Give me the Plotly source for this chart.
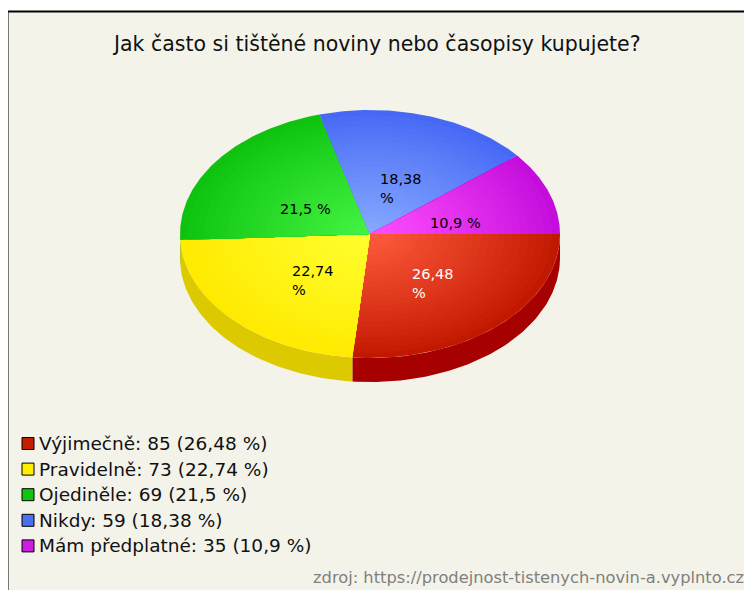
import numpy as np
import plotly.graph_objects as go

# ---------------- data ----------------
categories = ["Výjimečně", "Pravidelně", "Ojediněle", "Nikdy", "Mám předplatné"]
counts = [85, 73, 69, 59, 35]
percents = [26.48, 22.74, 21.5, 18.38, 10.9]
title_text = "Jak často si tištěné noviny nebo časopisy kupujete?"
source_text = "zdroj: https://prodejnost-tistenych-novin-a.vyplnto.cz"

# ---------------- styles ----------------
edge_colors = ["#c21800", "#ffea00", "#0fc20f", "#4668f5", "#c40ddc"]
center_colors = ["#ff5c3e", "#ffff30", "#45f545", "#88aaff", "#ff50ff"]
side_colors = ["#a60000", "#dcc900", "#0a9a0a", "#3050c0", "#9a00b0"]
legend_colors = ["#c41e00", "#ffee00", "#12c412", "#4a70f0", "#cc1ee0"]
label_colors = ["white", "black", "black", "black", "black"]

# window is 752x590; the page body has an 8px margin, so the figure
# covers window pixels 8..752 x 8..590 and axes are set in window pixels
WIN_W, WIN_H, OFF = 752, 590, 8
W, H = WIN_W - OFF, WIN_H - OFF
CX, CY, RX, RY, DEPTH = 370, 234, 190, 124, 24
FONT = "DejaVu Sans, Verdana, sans-serif"


def fmt(v):
    return f"{v:g}".replace(".", ",")


def hex2rgb(h):
    h = h.lstrip("#")
    return np.array([int(h[i:i + 2], 16) for i in (0, 2, 4)], dtype=float)


def lerp(c0, c1, t):
    c = hex2rgb(c0) * (1 - t) + hex2rgb(c1) * t
    return "rgb(%d,%d,%d)" % tuple(np.round(c).astype(int))


total = float(sum(counts))
angles = np.concatenate([[0.0], np.cumsum(np.array(counts) / total)]) * 2 * np.pi

fig = go.Figure()

# side walls (front half only)
for i in range(len(counts)):
    a0, a1 = max(angles[i], 0.0), min(angles[i + 1], np.pi)
    if a1 <= a0:
        continue
    t = np.linspace(a0, a1, 80)
    xs = CX + RX * np.cos(t)
    ys = CY + RY * np.sin(t)
    px = np.concatenate([xs, xs[::-1]])
    py = np.concatenate([ys, ys[::-1] + DEPTH])
    fig.add_trace(go.Scatter(x=px, y=py, mode="lines", fill="toself",
                             fillcolor=side_colors[i], line=dict(width=0),
                             hoverinfo="skip", showlegend=False))

# top faces with radial shading from the pie centre
K = 24
for i in range(len(counts)):
    t = np.linspace(angles[i], angles[i + 1], 120)
    for k in range(K):
        s = 1.0 - 0.95 * k / (K - 1)
        tc = (1 - s) ** 0.9
        xs = np.concatenate([[CX], CX + s * RX * np.cos(t), [CX]])
        ys = np.concatenate([[CY], CY + s * RY * np.sin(t), [CY]])
        fig.add_trace(go.Scatter(x=xs, y=ys, mode="lines", fill="toself",
                                 fillcolor=lerp(edge_colors[i], center_colors[i], tc),
                                 line=dict(width=0), hoverinfo="skip",
                                 showlegend=False))

annotations = []
# slice labels
for i, p in enumerate(percents):
    mid = (angles[i] + angles[i + 1]) / 2
    num = fmt(p)
    txt = f"{num}<br>%" if len(num) > 4 else f"{num} %"
    annotations.append(dict(
        x=CX + 0.45 * RX * np.cos(mid) + 5, y=CY + 0.45 * RY * np.sin(mid) + 8,
        xref="x", yref="y", text=txt, showarrow=False, align="left",
        xanchor="center", yanchor="middle",
        font=dict(family=FONT, size=14.5, color=label_colors[i])))

# legend
LX, LY0, LDY = 28, 443.5, 25.6
ly = [LY0 + j * LDY for j in range(len(categories))]
fig.add_trace(go.Scatter(x=[LX] * len(categories), y=ly, mode="markers",
                         marker=dict(symbol="square", size=12, color=legend_colors,
                                     line=dict(color="black", width=1)),
                         hoverinfo="skip", showlegend=False))
for j, (c, n, p) in enumerate(zip(categories, counts, percents)):
    annotations.append(dict(
        x=LX + 9, y=ly[j], xref="x", yref="y", text=f"{c}: {n} ({fmt(p)} %)",
        showarrow=False, xanchor="left", yanchor="middle",
        font=dict(family=FONT, size=18.5, color="#111111")))

# title and source
annotations.append(dict(x=376, y=44, xref="x", yref="y", text=title_text,
                        showarrow=False, xanchor="center", yanchor="middle",
                        font=dict(family=FONT, size=20.5, color="#111111")))
annotations.append(dict(x=746, y=577, xref="x", yref="y", text=source_text,
                        showarrow=False, xanchor="right", yanchor="middle",
                        font=dict(family=FONT, size=16.3, color="#808080")))

fig.update_layout(
    width=W, height=H, margin=dict(l=0, r=0, t=0, b=0),
    paper_bgcolor="white", plot_bgcolor="white",
    xaxis=dict(range=[OFF, WIN_W], visible=False, fixedrange=True),
    yaxis=dict(range=[WIN_H, OFF], visible=False, fixedrange=True),
    annotations=annotations,
    shapes=[dict(type="rect", xref="x", yref="y", x0=7.5, y0=11.5,
                 x1=WIN_W + 20, y1=WIN_H + 20,
                 line=dict(color="black", width=2), fillcolor="#f4f3ea", layer="below")],
    showlegend=False,
)

fig.write_html("out.html")
